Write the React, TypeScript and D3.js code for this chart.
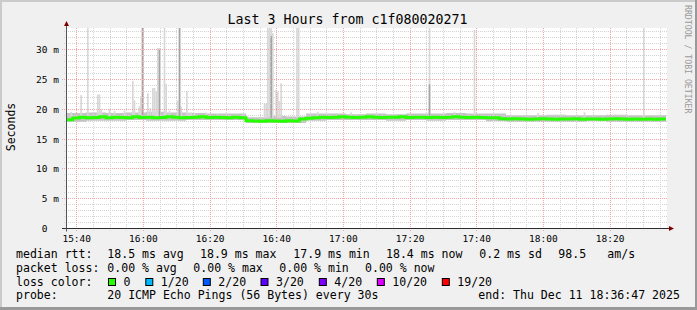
import React from "react";
import * as d3 from "d3";

// ---------- data ----------
const day = "2025-12-11";
const startTime = "15:36:47";
const endTime = "18:36:47";
const titleText = "Last 3 Hours from c1f080020271";
const yAxisTitle = "Seconds";
const watermark = "RRDTOOL / TOBI OETIKER";
const yMaxMs = 33.67;

// median rtt (ms), one value per 2 minutes starting at startTime
const medianStepSec = 120;
const medianValues = [
  18.25, 18.55, 18.7, 18.6, 18.65, 18.75, 18.6, 18.7, 18.65, 18.6,
  18.75, 18.65, 18.7, 18.6, 18.65, 18.75, 18.7, 18.6, 18.65, 18.7,
  18.75, 18.65, 18.7, 18.65, 18.6, 18.7, 18.6, 18.1, 18.05, 18.0,
  18.1, 18.05, 18.0, 18.1, 18.05, 18.4, 18.5, 18.6, 18.7, 18.65,
  18.7, 18.75, 18.7, 18.65, 18.7, 18.75, 18.7, 18.65, 18.7, 18.7,
  18.75, 18.65, 18.7, 18.7, 18.65, 18.7, 18.65, 18.7, 18.75, 18.7,
  18.65, 18.7, 18.65, 18.6, 18.6, 18.45, 18.4, 18.45, 18.4, 18.35,
  18.4, 18.45, 18.4, 18.35, 18.4, 18.4, 18.45, 18.35, 18.4, 18.4,
  18.35, 18.4, 18.45, 18.4, 18.35, 18.4, 18.35, 18.4, 18.35, 18.4,
];

// smoke band (ms), one value per 6 minutes
const smokeStepSec = 360;
const smokeHigh = [
  19.4, 19.5, 19.4, 19.5, 19.6, 19.5, 19.4, 19.3, 19.3, 18.7,
  18.9, 18.8, 19.3, 19.3, 19.2, 19.3, 19.2, 19.3, 19.3, 19.4,
  19.3, 19.3, 19.0, 19.0, 19.1, 19.0, 19.0, 19.1, 19.0, 19.0,
];
const smokeLow = [
  17.9, 18.1, 18.1, 18.2, 18.1, 18.1, 18.2, 18.2, 18.2, 17.7,
  17.7, 17.7, 18.1, 18.2, 18.2, 18.2, 18.1, 18.2, 18.1, 18.2,
  18.2, 18.0, 17.9, 17.9, 17.9, 17.9, 18.0, 17.9, 17.9, 17.9,
];

// individual high pings: time, highest ping (ms), second-highest ping (ms)
const spikeTimes = [
  "15:38:05", "15:41:05", "15:43:05", "15:46:05", "15:46:35", "15:47:05", "15:49:35",
  "15:51:05", "15:54:05", "15:56:35", "15:57:05", "15:58:30", "15:59:00", "15:59:30",
  "16:01:05", "16:01:50", "16:02:35", "16:03:05", "16:03:35", "16:04:05", "16:04:35",
  "16:06:05", "16:06:35", "16:07:35", "16:10:06", "16:10:36", "16:11:06", "16:12:47",
  "16:13:35", "16:14:05", "16:15:05", "16:18:35", "16:22:05",
  "16:36:05", "16:36:35", "16:37:05", "16:37:35", "16:38:05", "16:38:35",
  "16:39:35", "16:40:05", "16:40:35", "16:41:05", "16:45:50", "16:46:20",
  "16:52:05", "17:02:05", "17:25:35", "17:33:05", "17:39:05", "17:58:05",
  "18:12:05", "18:29:53",
];
const spikeMax = [
  19.6, 22.4, 36.0, 22.5, 22.5, 20.0, 20.1,
  19.7, 19.8, 24.8, 21.5, 20.5, 22.2, 36.0,
  22.7, 20.2, 23.6, 23.6, 23.0, 30.3, 30.3,
  36.0, 24.3, 19.8, 21.5, 36.0, 20.5, 23.1,
  19.5, 19.5, 19.4, 19.5, 19.3,
  21.0, 21.0, 36.0, 36.0, 36.0, 32.8,
  23.3, 23.0, 21.4, 24.4, 36.0, 36.0,
  19.6, 19.5, 36.0, 19.6, 33.4, 19.4,
  19.5, 36.0,
];
const spikeSecond = [
  0, 0, 0, 0, 0, 0, 0,
  0, 0, 0, 0, 0, 0, 36.0,
  0, 0, 0, 0, 0, 0, 30.0,
  0, 0, 0, 0, 36.0, 0, 0,
  0, 0, 0, 0, 0,
  0, 0, 0, 0, 32.3, 0,
  0, 0, 0, 0, 0, 0,
  0, 0, 24.2, 0, 0, 0,
  0, 0,
];

const yTicks = [0, 5, 10, 15, 20, 25, 30];
const yTickLabels = ["0  ", "5 m", "10 m", "15 m", "20 m", "25 m", "30 m"];

const legendRttLabels = ["median rtt:", "18.5 ms avg", "18.9 ms max", "17.9 ms min", "18.4 ms now", "0.2 ms sd", "98.5", "am/s"];
const legendLossLabels = ["packet loss:", "0.00 % avg", "0.00 % max", "0.00 % min", "0.00 % now"];
const lossColorTitle = "loss color:";
const lossNames = ["0", "1/20", "2/20", "3/20", "4/20", "10/20", "19/20"];
const lossColors = ["#26ff00", "#00b8ff", "#0059ff", "#5e00ff", "#7e00ff", "#dd00ff", "#ff0000"];
const probeLabels = ["probe:", "20 ICMP Echo Pings (56 Bytes) every 30s", "end: Thu Dec 11 18:36:47 2025"];

// ---------- layout ----------
const W = 697;
const H = 310;
const plotL = 67;
const plotR = 667;
const plotT = 28;
const plotB = 228.5;
const mono = "DejaVu Sans Mono";

const rttX = [16, 107.3, 200, 293.3, 386, 479.3, 558.3, 607.3];
const lossX = [16, 107.3, 193.3, 279.3, 365];
const swatchX = [108.5, 145.8, 203.3, 261, 319.3, 377.3, 442.3];
const probeX = [16, 107.3, 478.3];
const rowY = [258.2, 271.7, 285.6, 299];

export default function App() {
  const parse = d3.timeParse("%Y-%m-%d %H:%M:%S");
  const t0 = parse(`${day} ${startTime}`) as Date;
  const t1 = parse(`${day} ${endTime}`) as Date;
  const x = d3.scaleTime().domain([t0, t1]).range([66, 666]);
  const y = d3.scaleLinear().domain([0, yMaxMs]).range([plotB, plotT]);
  const crisp = (v: number) => Math.round(v - 0.5) + 0.5;

  const addSec = (s: number) => new Date(t0.getTime() + s * 1000);

  const medPts = medianValues.map((v, i) => ({ t: addSec(i * medianStepSec), v }));
  medPts.push({ t: t1, v: medianValues[medianValues.length - 1] });
  const medLine = d3
    .line<{ t: Date; v: number }>()
    .x((d) => x(d.t))
    .y((d) => y(d.v))
    .curve(d3.curveStepAfter)(medPts) as string;

  const smokePts = smokeHigh.map((h, i) => ({ t: addSec(i * smokeStepSec), h, l: smokeLow[i] }));
  smokePts.push({ t: t1, h: smokeHigh[smokeHigh.length - 1], l: smokeLow[smokeLow.length - 1] });
  const smokeArea = d3
    .area<{ t: Date; h: number; l: number }>()
    .x((d) => x(d.t))
    .y0((d) => y(d.l))
    .y1((d) => y(d.h))
    .curve(d3.curveStepAfter)(smokePts) as string;

  const spikes = spikeTimes.map((s, i) => {
    const t = parse(`${day} ${s}`) as Date;
    return { t, t2: new Date(t.getTime() + 30000), max: spikeMax[i], second: spikeSecond[i] };
  });
  const clampV = (v: number) => Math.min(v, yMaxMs);

  const minorTimes = d3.timeMinute.every(5)!.range(t0, t1);
  const majorTimes = minorTimes.filter((d) => d.getMinutes() % 20 === 0);
  const fmt = d3.timeFormat("%H:%M");
  const minorY = d3.range(1, 34).filter((v) => v % 5 !== 0);

  return (
    <svg
      width={W}
      height={H}
      viewBox={`0 0 ${W} ${H}`}
      style={{ position: "absolute", left: 0, top: 0, display: "block" }}
      fontFamily={mono}
    >
      <defs>
        <clipPath id="plotclip">
          <rect x={plotL} y={plotT} width={plotR - plotL} height={plotB - plotT} />
        </clipPath>
      </defs>
      <rect x={0} y={0} width={W} height={H} fill="#f0f0f0" />
      <rect x={0} y={0} width={W} height={2} fill="#cbcbcb" />
      <rect x={0} y={0} width={2} height={H} fill="#cbcbcb" />
      <rect x={W - 2} y={0} width={2} height={H} fill="#999999" />
      <rect x={0} y={H - 3} width={W} height={3} fill="#999999" />
      <rect x={plotL} y={plotT} width={plotR - plotL} height={plotB - plotT} fill="#ffffff" />

      <g clipPath="url(#plotclip)">
        <path d={smokeArea} fill="#c4c4c4" />
        {spikes.map((s, i) => (
          <rect
            key={"s" + i}
            x={x(s.t)}
            width={x(s.t2) - x(s.t)}
            y={y(clampV(s.max))}
            height={y(18.6) - y(clampV(s.max))}
            fill="#d8d8d8"
          />
        ))}
        {spikes
          .filter((s) => s.second > 0)
          .map((s, i) => (
            <rect
              key={"d" + i}
              x={x(s.t)}
              width={x(s.t2) - x(s.t)}
              y={y(clampV(s.second))}
              height={y(18.6) - y(clampV(s.second))}
              fill="#a4a4a4"
            />
          ))}
      </g>

      <g strokeWidth={1} strokeDasharray="1,1" fill="none">
        {minorY.map((v) => (
          <line key={"hy" + v} x1={64} x2={plotR} y1={crisp(y(v))} y2={crisp(y(v))} stroke="#d4d4d4" />
        ))}
        {minorTimes
          .filter((d) => d.getMinutes() % 20 !== 0)
          .map((d, i) => (
            <line key={"vx" + i} x1={crisp(x(d))} x2={crisp(x(d))} y1={plotT} y2={plotB + 2} stroke="#d4d4d4" />
          ))}
        {yTicks
          .filter((v) => v > 0)
          .map((v) => (
            <line key={"hm" + v} x1={62} x2={plotR} y1={crisp(y(v))} y2={crisp(y(v))} stroke="#f4a4a4" />
          ))}
        {majorTimes.map((d, i) => (
          <line key={"vm" + i} x1={crisp(x(d))} x2={crisp(x(d))} y1={plotT} y2={plotB + 3} stroke="#f4a4a4" />
        ))}
      </g>

      <g clipPath="url(#plotclip)">
        <path d={medLine} fill="none" stroke="#26ff00" strokeWidth={3} />
      </g>

      <line x1={62} x2={670} y1={plotB} y2={plotB} stroke="#2c2c2c" strokeWidth={1} />
      <line x1={66.5} x2={66.5} y1={25} y2={plotB + 3} stroke="#555555" strokeWidth={1} />
      <path d="M64,26 L69,26 L66.5,21 Z" fill="#7f0000" />
      <path d="M669,226 L669,231 L674,228.5 Z" fill="#7f0000" />

      {yTicks.map((v, i) => (
        <text key={"yl" + v} x={59} y={y(v) + 3.4} fontSize={9.5} textAnchor="end" fill="#000" style={{ whiteSpace: "pre" }}>
          {yTickLabels[i]}
        </text>
      ))}
      {majorTimes.map((d, i) => (
        <text key={"xl" + i} x={x(d)} y={241.8} fontSize={9.5} textAnchor="middle" fill="#000">
          {fmt(d)}
        </text>
      ))}

      <text x={347.5} y={24} fontSize={13.3} textAnchor="middle" fill="#000">
        {titleText}
      </text>
      <text transform="translate(15,127) rotate(-90)" fontSize={11.5} textAnchor="middle" fill="#000">
        {yAxisTitle}
      </text>
      <text transform="translate(685,5) rotate(90)" fontSize={8.2} fill="#9a9a9a">
        {watermark}
      </text>

      <g fontSize={11.55} fill="#000">
        {legendRttLabels.map((s, i) => (
          <text key={"r" + i} x={rttX[i]} y={rowY[0]}>{s}</text>
        ))}
        {legendLossLabels.map((s, i) => (
          <text key={"l" + i} x={lossX[i]} y={rowY[1]}>{s}</text>
        ))}
        <text x={16} y={rowY[2]}>{lossColorTitle}</text>
        {lossNames.map((s, i) => (
          <g key={"c" + i}>
            <rect x={swatchX[i]} y={278.5} width={7} height={7} fill={lossColors[i]} stroke="#000" strokeWidth={1} />
            <text x={swatchX[i] + 15} y={rowY[2]}>{s}</text>
          </g>
        ))}
        {probeLabels.map((s, i) => (
          <text key={"p" + i} x={probeX[i]} y={rowY[3]}>{s}</text>
        ))}
      </g>
    </svg>
  );
}
